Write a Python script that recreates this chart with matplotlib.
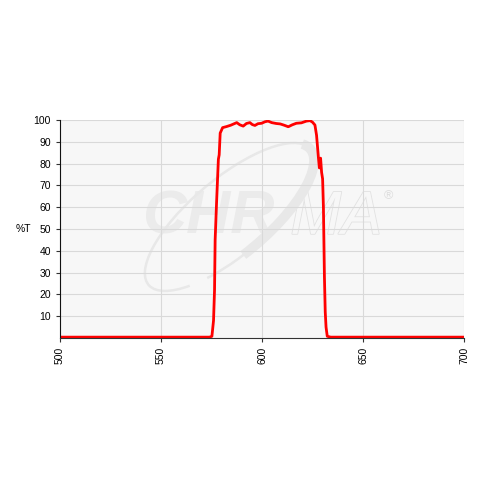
import matplotlib.pyplot as plt
import matplotlib.patheffects as pe
from matplotlib.patches import Arc

plt.rcParams["font.family"] = ["Liberation Sans", "DejaVu Sans"]

wavelength = [500, 574.0, 575.2, 576.0, 576.5, 576.8, 577.5, 578.4, 578.8, 579.3, 580.5,
              582.5, 584.5, 586.0, 587.5, 589.0, 590.7, 592.3, 594.0, 595.2, 596.5,
              598.0, 599.8, 601.5, 603.0, 604.8, 607.0, 609.0, 611.0, 613.0, 615.0,
              617.0, 619.5, 622.0, 623.8, 625.0, 626.2, 627.0, 627.9, 628.4, 629.0,
              629.5, 630.0, 630.4, 630.9, 631.3, 631.7, 632.3, 634.0, 700]
transmission = [0.4, 0.4, 0.8, 8, 22, 45, 62, 82, 84, 94, 96.5,
                97.0, 97.6, 98.2, 98.8, 97.8, 97.2, 98.4, 98.8, 97.9, 97.5,
                98.3, 98.5, 99.2, 99.5, 98.8, 98.4, 98.2, 97.6, 96.9, 97.8,
                98.5, 98.7, 99.5, 99.7, 99.0, 97.7, 93.0, 83.0, 78.0, 82.5,
                76.0, 73.0, 60.0, 28.0, 12.0, 5.0, 0.8, 0.4, 0.4]

x_ticks = [500, 550, 600, 650, 700]
y_ticks = [10, 20, 30, 40, 50, 60, 70, 80, 90, 100]

fig = plt.figure(figsize=(4.8, 4.8), dpi=100)
ax = fig.add_axes([0.125, 0.2958, 0.8417, 0.4542])
ax.set_facecolor("#f7f7f7")

ax.plot(wavelength, transmission, color="#ff0000", lw=2.0, zorder=5,
        solid_joinstyle="round")

ax.set_xlim(500, 700)
ax.set_ylim(0, 100)
ax.set_xticks(x_ticks)
ax.set_yticks(y_ticks)
ax.tick_params(axis="x", labelrotation=90, labelsize=7.5, length=3, color="#333333")
ax.tick_params(axis="y", labelsize=7.5, length=3, color="#333333")
ax.grid(True, color="#d9d9d9", lw=0.8)
ax.set_axisbelow(True)
for side in ("top", "right"):
    ax.spines[side].set_visible(False)
ax.spines["left"].set_color("#111111")
ax.spines["bottom"].set_color("#333333")
ax.spines["left"].set_zorder(6)
ax.spines["bottom"].set_zorder(6)
ax.set_ylabel("%T", rotation=0, fontsize=7.5, labelpad=7, va="center")

# faint logo watermark, under the grid and the curve
wm = "#ebebeb"
ft = fig.transFigure
ax.text(0.295, 0.545, "CHR", fontsize=44, fontweight="bold", fontstyle="italic",
        color=wm, ha="left", va="center", zorder=0.2, transform=ft)
ax.text(0.605, 0.545, "MA", fontsize=44, fontstyle="italic", color="#f7f7f7",
        ha="left", va="center", zorder=0.2, transform=ft,
        path_effects=[pe.withStroke(linewidth=1.2, foreground="#e2e2e2")])
ax.text(0.8, 0.585, "®", fontsize=9, color="#dddddd", zorder=0.2, transform=ft)
ax.add_patch(Arc((0.478, 0.548), 0.44, 0.16, angle=40, theta1=-150, theta2=200,
                 transform=ft, color="#e8e8e8", lw=1.8, zorder=0.2, clip_on=False))
ax.add_patch(Arc((0.478, 0.548), 0.44, 0.16, angle=40, theta1=-110, theta2=5,
                 transform=ft, color="#e8e8e8", lw=7, zorder=0.2, clip_on=False))

fig.savefig("out.png", dpi=100)
